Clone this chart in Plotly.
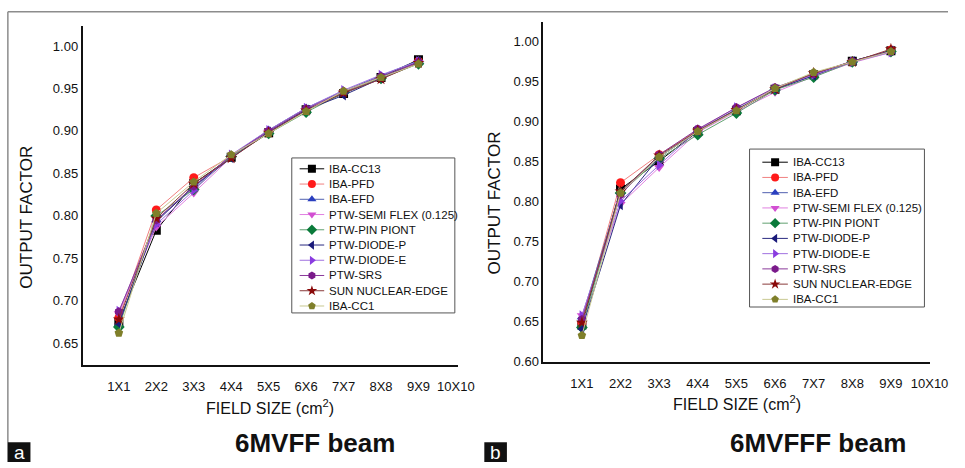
import plotly.graph_objects as go

# Field sizes on the x axis (10X10 has no measurement)
field_sizes = ["1X1", "2X2", "3X3", "4X4", "5X5", "6X6", "7X7", "8X8", "9X9", "10X10"]

detectors = ["IBA-CC13", "IBA-PFD", "IBA-EFD", "PTW-SEMI FLEX (0.125)", "PTW-PIN PIONT",
             "PTW-DIODE-P", "PTW-DIODE-E", "PTW-SRS", "SUN NUCLEAR-EDGE", "IBA-CC1"]

# Output factors, 6MV flattening-filter beam (1X1 .. 9X9)
ff_cc13     = [0.675, 0.783, 0.838, 0.869, 0.898, 0.925, 0.944, 0.963, 0.984]
ff_pfd      = [0.680, 0.807, 0.845, 0.870, 0.899, 0.924, 0.946, 0.962, 0.982]
ff_efd      = [0.672, 0.795, 0.833, 0.871, 0.901, 0.927, 0.947, 0.965, 0.983]
ff_semiflex = [0.685, 0.787, 0.827, 0.869, 0.899, 0.924, 0.945, 0.961, 0.981]
ff_pinpoint = [0.669, 0.800, 0.831, 0.870, 0.897, 0.922, 0.945, 0.962, 0.979]
ff_diode_p  = [0.673, 0.793, 0.835, 0.868, 0.899, 0.925, 0.942, 0.962, 0.982]
ff_diode_e  = [0.688, 0.790, 0.830, 0.872, 0.901, 0.927, 0.948, 0.966, 0.982]
ff_srs      = [0.687, 0.795, 0.835, 0.871, 0.900, 0.926, 0.946, 0.964, 0.981]
ff_edge     = [0.678, 0.797, 0.838, 0.868, 0.898, 0.924, 0.945, 0.961, 0.980]
ff_cc1      = [0.662, 0.803, 0.840, 0.872, 0.897, 0.923, 0.947, 0.963, 0.979]

# Output factors, 6MV flattening-filter-free beam (1X1 .. 9X9)
fff_cc13     = [0.645, 0.815, 0.850, 0.887, 0.913, 0.940, 0.958, 0.975, 0.988]
fff_pfd      = [0.648, 0.823, 0.858, 0.889, 0.914, 0.939, 0.958, 0.974, 0.989]
fff_efd      = [0.655, 0.812, 0.855, 0.888, 0.915, 0.940, 0.957, 0.974, 0.987]
fff_semiflex = [0.657, 0.796, 0.842, 0.886, 0.912, 0.936, 0.956, 0.973, 0.986]
fff_pinpoint = [0.642, 0.810, 0.853, 0.883, 0.910, 0.939, 0.955, 0.974, 0.987]
fff_diode_p  = [0.640, 0.795, 0.855, 0.887, 0.914, 0.940, 0.957, 0.975, 0.988]
fff_diode_e  = [0.657, 0.800, 0.845, 0.889, 0.917, 0.941, 0.958, 0.974, 0.986]
fff_srs      = [0.652, 0.808, 0.858, 0.890, 0.917, 0.942, 0.959, 0.975, 0.987]
fff_edge     = [0.648, 0.812, 0.857, 0.888, 0.914, 0.940, 0.960, 0.974, 0.990]
fff_cc1      = [0.632, 0.810, 0.855, 0.887, 0.913, 0.941, 0.961, 0.974, 0.987]

ff_series = [ff_cc13, ff_pfd, ff_efd, ff_semiflex, ff_pinpoint,
             ff_diode_p, ff_diode_e, ff_srs, ff_edge, ff_cc1]
fff_series = [fff_cc13, fff_pfd, fff_efd, fff_semiflex, fff_pinpoint,
              fff_diode_p, fff_diode_e, fff_srs, fff_edge, fff_cc1]

marker_colors = ["#000000", "#ff1a1a", "#2a3fbf", "#d24fd2", "#0a7a3a",
                 "#1a1a7a", "#8a3ce0", "#7a1a8a", "#8a0a0a", "#7f7f2a"]
line_colors = ["#000000", "#f08080", "#5060b0", "#e080e0", "#60a070",
               "#2a2a80", "#a070e0", "#8a3a9a", "#8a3a3a", "#c8c890"]
symbols = ["square", "circle", "triangle-up", "triangle-down", "diamond",
           "triangle-left", "triangle-right", "hexagon", "star", "pentagon"]

FONT = "Liberation Sans, Arial, Helvetica, sans-serif"
TEXT = "#111111"
W, H = 965, 468


def px_x(p):
    return p / W


def px_y(p):
    return 1 - p / H


fig = go.Figure()
x_idx = list(range(len(field_sizes)))

# Measured curves, one trace per detector in each panel
for series, xa, ya in [(ff_series, "x", "y"), (fff_series, "x2", "y2")]:
    for i, name in enumerate(detectors):
        fig.add_trace(go.Scatter(
            x=x_idx[:len(series[i])], y=series[i], name=name,
            mode="lines+markers", xaxis=xa, yaxis=ya, showlegend=False,
            line=dict(color=line_colors[i], width=1),
            marker=dict(symbol=symbols[i], color=marker_colors[i], size=9,
                        opacity=1, line=dict(width=0)),
        ))

# Compact boxed keys: each sits on its own hidden axis pair, x in pixels
# from the box's left edge and y in row units (one row per detector).
ROW = 15.44
keys = [
    dict(box=(297, 463, 160, 317), first_row=171.0, xa="x3", ya="y3",
         glyph=(8, 33), text_x=36),
    dict(box=(763, 941, 151, 311), first_row=164.3, xa="x4", ya="y4",
         glyph=(13, 39), text_x=42),
]

axis_common = dict(showgrid=False, zeroline=False, showline=True,
                   linecolor=TEXT, linewidth=1.5, ticks="",
                   tickfont=dict(family=FONT, size=13, color=TEXT))

layout_axes = dict(
    xaxis=dict(domain=[px_x(84), px_x(466)], range=[-0.97, 9.05],
               tickvals=x_idx, ticktext=field_sizes, anchor="y",
               ticklabelstandoff=8, **axis_common),
    yaxis=dict(domain=[px_y(370), px_y(26)], range=[0.624, 1.024],
               tickvals=[0.65, 0.70, 0.75, 0.80, 0.85, 0.90, 0.95, 1.00],
               tickformat=".2f", anchor="x", **axis_common),
    xaxis2=dict(domain=[px_x(553), px_x(947)], range=[-1.0, 9.02],
                tickvals=x_idx, ticktext=field_sizes, anchor="y2",
                ticklabelstandoff=8, **axis_common),
    yaxis2=dict(domain=[px_y(367), px_y(22)], range=[0.5984, 1.0243],
                tickvals=[0.60, 0.65, 0.70, 0.75, 0.80, 0.85, 0.90, 0.95, 1.00],
                tickformat=".2f", anchor="x2", **axis_common),
)

for k in keys:
    bx0, bx1, by0, by1 = k["box"]
    n = k["xa"][1:]
    layout_axes[f"xaxis{n}"] = dict(domain=[px_x(bx0), px_x(bx1)],
                                    range=[0, bx1 - bx0], visible=False,
                                    anchor=k["ya"], fixedrange=True)
    layout_axes[f"yaxis{n}"] = dict(domain=[px_y(by1), px_y(by0)],
                                    range=[(by1 - k["first_row"]) / ROW,
                                           (by0 - k["first_row"]) / ROW],
                                    visible=False, anchor=k["xa"], fixedrange=True)
    fig.add_shape(type="rect", xref="paper", yref="paper",
                  x0=px_x(bx0), x1=px_x(bx1), y0=px_y(by1), y1=px_y(by0),
                  line=dict(color="#555555", width=1), fillcolor="white",
                  layer="below")
    g0, g1 = k["glyph"]
    for i, name in enumerate(detectors):
        fig.add_trace(go.Scatter(
            x=[g0, (g0 + g1) / 2, g1], y=[i, i, i], xaxis=k["xa"], yaxis=k["ya"],
            mode="lines+markers", showlegend=False, hoverinfo="skip",
            line=dict(color=line_colors[i], width=1),
            marker=dict(symbol=symbols[i], color=marker_colors[i],
                        size=[0, 8, 0], opacity=1, line=dict(width=0)),
        ))
        fig.add_annotation(xref=k["xa"], yref=k["ya"], x=k["text_x"], y=i,
                           text=name, showarrow=False,
                           xanchor="left", yanchor="middle",
                           font=dict(family=FONT, size=11.5, color=TEXT))

fig.update_layout(
    width=W, height=H,
    margin=dict(l=0, r=0, t=0, b=0),
    paper_bgcolor="white", plot_bgcolor="rgba(0,0,0,0)",
    font=dict(family=FONT, color=TEXT),
    showlegend=False,
    **layout_axes,
)

# Outer frame: top rule and left rule
fig.add_shape(type="line", xref="paper", yref="paper",
              x0=px_x(8), x1=1, y0=px_y(12), y1=px_y(12),
              line=dict(color="#8c8c8c", width=1.5))
fig.add_shape(type="line", xref="paper", yref="paper",
              x0=px_x(8), x1=px_x(8), y0=px_y(12), y1=0,
              line=dict(color="#8c8c8c", width=1.5))

# Panel letters on black tabs
for letter, x0, x1 in [("a", 8, 31), ("b", 493, 516)]:
    fig.add_shape(type="rect", xref="paper", yref="paper",
                  x0=px_x(x0), x1=px_x(x1), y0=0, y1=px_y(448),
                  fillcolor=TEXT, line=dict(width=0))
    fig.add_annotation(xref="paper", yref="paper",
                       x=px_x((x0 + x1) / 2), y=px_y(458),
                       text=letter, showarrow=False, xanchor="center", yanchor="middle",
                       font=dict(family=FONT, size=19, color="white"))

texts = [
    # panel titles
    ("6MVFF beam", 321, 449, 26, True, 0),
    ("6MVFFF beam", 833, 449, 26, True, 0),
    # axis titles
    ("FIELD SIZE (cm<sup>2</sup>)", 275, 412, 16, False, 0),
    ("FIELD SIZE (cm<sup>2</sup>)", 750, 408, 16, False, 0),
    ("OUTPUT FACTOR", 27, 220, 17, False, -90),
    ("OUTPUT FACTOR", 503, 206, 17, False, -90),
]
for txt, x, y, size, bold, ang in texts:
    fig.add_annotation(xref="paper", yref="paper", x=px_x(x), y=px_y(y),
                       text=f"<b>{txt}</b>" if bold else txt,
                       showarrow=False, xanchor="center", yanchor="middle",
                       textangle=ang,
                       font=dict(family=FONT, size=size, color=TEXT))

fig.write_html("out.html")
